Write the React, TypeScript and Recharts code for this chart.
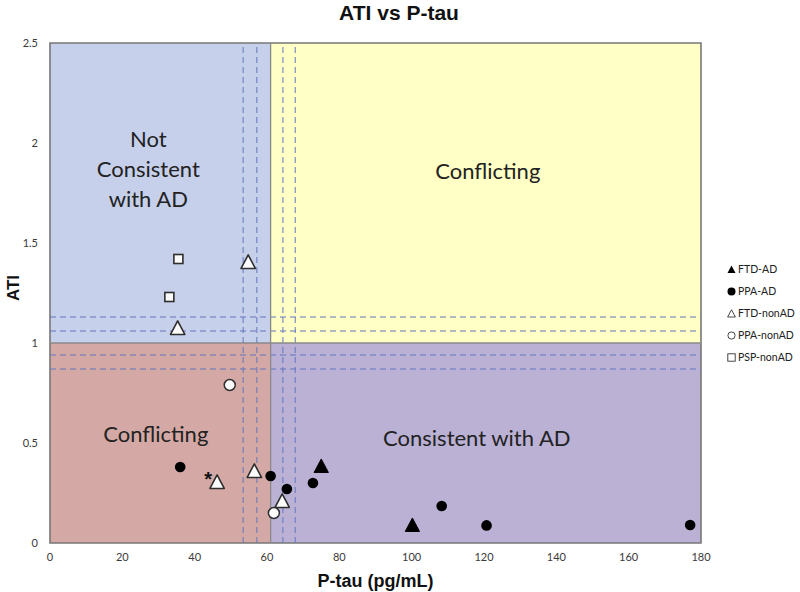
import React from 'react';
import { ScatterChart, Scatter, XAxis, YAxis, ReferenceArea, ReferenceLine, Legend } from 'recharts';

// ---- data ----
const xTicks = [0, 20, 40, 60, 80, 100, 120, 140, 160, 180];
const yTicks = [0, 0.5, 1, 1.5, 2, 2.5];
const ptauCutoff = 61;
const atiCutoff = 1;
const ptauDashed = [53.4, 57.2, 64.4, 67.8];
const atiDashed = [0.87, 0.94, 1.06, 1.13];

const ftdAD = [
  { x: 75, y: 0.38 },
  { x: 100.2, y: 0.085 },
];
const ppaAD = [
  { x: 36, y: 0.38 },
  { x: 61, y: 0.335 },
  { x: 65.5, y: 0.27 },
  { x: 72.7, y: 0.3 },
  { x: 108.3, y: 0.185 },
  { x: 120.7, y: 0.088 },
  { x: 177, y: 0.09 },
];
const ftdNonAD = [
  { x: 35.3, y: 1.07 },
  { x: 46.2, y: 0.3, note: '*' },
  { x: 56.5, y: 0.355 },
  { x: 64.2, y: 0.205 },
  { x: 54.8, y: 1.4 },
];
const ppaNonAD = [
  { x: 49.7, y: 0.79 },
  { x: 61.9, y: 0.15 },
];
const pspNonAD = [
  { x: 35.5, y: 1.42 },
  { x: 33, y: 1.23 },
];

const seriesNames = ['FTD-AD', 'PPA-AD', 'FTD-nonAD', 'PPA-nonAD', 'PSP-nonAD'];
const regionTexts = {
  notConsistent: ['Not', 'Consistent', 'with AD'],
  conflictingTop: ['Conflicting'],
  conflictingBottom: ['Conflicting'],
  consistent: ['Consistent with AD'],
};

// ---- styles ----
const regionFont = 'Lato, "Open Sans", sans-serif';
const boldFont = '"Liberation Sans", Arial, sans-serif';
const dashColor = '#6276bd';
const openFill = '#fbfbfb';
const openStroke = '#2e2e2e';

// ---- marker shapes ----
const triPoints = (cx: number, cy: number, s: number) =>
  `${cx},${cy - s * 0.62} ${cx - s * 0.55},${cy + s * 0.42} ${cx + s * 0.55},${cy + s * 0.42}`;

const FilledTriangle = (p: any) => (
  <polygon points={triPoints(p.cx, p.cy, 13)} fill="#000" stroke="#000" strokeWidth={1} />
);
const FilledCircle = (p: any) => <circle cx={p.cx} cy={p.cy} r={5.3} fill="#000" />;
const OpenTriangle = (p: any) => (
  <g>
    <polygon points={triPoints(p.cx, p.cy, 13)} fill={openFill} stroke={openStroke} strokeWidth={1.6} strokeLinejoin="round" />
    {p.payload && p.payload.note ? (
      <text x={p.cx - 9} y={p.cy + 3} textAnchor="middle" fontSize={20} fontWeight="bold" fontFamily={boldFont} fill="#111">
        {p.payload.note}
      </text>
    ) : null}
  </g>
);
const OpenCircle = (p: any) => (
  <circle cx={p.cx} cy={p.cy} r={5.5} fill={openFill} stroke={openStroke} strokeWidth={1.5} />
);
const OpenSquare = (p: any) => (
  <rect x={p.cx - 4.5} y={p.cy - 4.5} width={9} height={9} fill={openFill} stroke={openStroke} strokeWidth={1.6} />
);

const legendMarker = (name: string) => {
  switch (name) {
    case 'FTD-AD':
      return <polygon points="4.5,0.5 0.5,8 8.5,8" fill="#000" />;
    case 'PPA-AD':
      return <circle cx={4.5} cy={4.5} r={4} fill="#000" />;
    case 'FTD-nonAD':
      return <polygon points="4.5,0.8 0.6,8 8.4,8" fill="#fff" stroke="#333" strokeWidth={0.9} />;
    case 'PPA-nonAD':
      return <circle cx={4.5} cy={4.5} r={3.6} fill="#fff" stroke="#333" strokeWidth={0.9} />;
    default:
      return <rect x={0.8} y={0.8} width={7.4} height={7.4} fill="#fff" stroke="#333" strokeWidth={0.9} />;
  }
};

const renderLegend = () => (
  <div style={{ fontFamily: regionFont, fontSize: 10.5, color: '#222' }}>
    {seriesNames.map((n) => (
      <div key={n} style={{ height: 22, display: 'flex', alignItems: 'center' }}>
        <svg width={9} height={9} style={{ marginRight: 2 }}>
          {legendMarker(n)}
        </svg>
        <span>{n}</span>
      </div>
    ))}
  </div>
);

const RegionText = (props: any) => {
  const { viewBox, lines, dx, dy, lineHeight } = props;
  if (!viewBox) return null;
  const cx = viewBox.x + viewBox.width / 2 + dx;
  const cy = viewBox.y + viewBox.height / 2 + dy;
  const n = lines.length;
  return (
    <text textAnchor="middle" fontFamily={regionFont} fontSize={22} fill="#222">
      {lines.map((l: string, i: number) => (
        <tspan key={i} x={cx} y={cy + (i - (n - 1) / 2) * lineHeight} dominantBaseline="central">
          {l}
        </tspan>
      ))}
    </text>
  );
};

const XLabel = (props: any) => {
  const { viewBox } = props;
  return (
    <text x={viewBox.x + viewBox.width / 2} y={587} textAnchor="middle" fontFamily={boldFont} fontWeight="bold" fontSize={18} fill="#111">
      P-tau (pg/mL)
    </text>
  );
};
const YLabel = () => {
  const cy = 288;
  return (
    <text x={19} y={cy} transform={`rotate(-90 19 ${cy})`} textAnchor="middle" fontFamily={boldFont} fontWeight="bold" fontSize={17} fill="#111">
      ATI
    </text>
  );
};

export default function App() {
  const tickStyle = { fontSize: 11, fill: '#3a3a3a', fontFamily: regionFont };
  return (
    <div style={{ position: 'absolute', left: 0, top: 0, width: 800, height: 592, background: '#fff' }}>
      <div
        style={{
          position: 'absolute',
          left: 0,
          top: 0,
          width: 798,
          textAlign: 'center',
          fontFamily: boldFont,
          fontWeight: 'bold',
          fontSize: 21,
          lineHeight: '26px',
          color: '#111',
        }}
      >
        ATI vs P-tau
      </div>
      <ScatterChart width={800} height={592} margin={{ top: 43, right: 99, bottom: 4, left: 0 }}>
        <XAxis
          type="number"
          dataKey="x"
          domain={[0, 180]}
          ticks={xTicks}
          tickLine={false}
          axisLine={false}
          tickSize={0}
          tickMargin={10}
          tick={tickStyle}
          height={45}
          interval={0}
          label={<XLabel />}
        />
        <YAxis
          type="number"
          dataKey="y"
          domain={[0, 2.5]}
          ticks={yTicks}
          tickLine={false}
          axisLine={false}
          tickSize={0}
          tickMargin={12}
          tick={tickStyle}
          width={50}
          interval={0}
          label={<YLabel />}
        />
        <ReferenceArea x1={0} x2={ptauCutoff} y1={atiCutoff} y2={2.5} fill="#c6d0ea" fillOpacity={1} stroke="none"
          label={<RegionText lines={regionTexts.notConsistent} dx={-12} dy={-25} lineHeight={30} />} />
        <ReferenceArea x1={ptauCutoff} x2={180} y1={atiCutoff} y2={2.5} fill="#ffffc6" fillOpacity={1} stroke="none"
          label={<RegionText lines={regionTexts.conflictingTop} dx={2} dy={-23} lineHeight={30} />} />
        <ReferenceArea x1={0} x2={ptauCutoff} y1={0} y2={atiCutoff} fill="#d4a9a5" fillOpacity={1} stroke="none"
          label={<RegionText lines={regionTexts.conflictingBottom} dx={-4.5} dy={-10} lineHeight={30} />} />
        <ReferenceArea x1={ptauCutoff} x2={180} y1={0} y2={atiCutoff} fill="#bab1d5" fillOpacity={1} stroke="none"
          label={<RegionText lines={regionTexts.consistent} dx={-9} dy={-6} lineHeight={30} />} />
        {ptauDashed.map((v) => (
          <ReferenceLine key={'x' + v} x={v} stroke={dashColor} strokeDasharray="6 4" strokeWidth={1} />
        ))}
        {atiDashed.map((v) => (
          <ReferenceLine key={'y' + v} y={v} stroke={dashColor} strokeDasharray="6 4" strokeWidth={1} />
        ))}
        <ReferenceLine x={ptauCutoff} stroke="#8a8a8a" strokeWidth={1.3} />
        <ReferenceLine y={atiCutoff} stroke="#8a8a8a" strokeWidth={1.3} />
        <ReferenceArea x1={0} x2={180} y1={0} y2={2.5} fill="none" stroke="#777" strokeWidth={1.6} />
        <Legend
          layout="vertical"
          align="center"
          verticalAlign="middle"
          content={renderLegend}
          wrapperStyle={{ left: 727, top: 258, width: 75, height: 110 }}
        />
        <Scatter name="FTD-AD" data={ftdAD} shape={FilledTriangle} isAnimationActive={false} />
        <Scatter name="PPA-AD" data={ppaAD} shape={FilledCircle} isAnimationActive={false} />
        <Scatter name="FTD-nonAD" data={ftdNonAD} shape={OpenTriangle} isAnimationActive={false} />
        <Scatter name="PPA-nonAD" data={ppaNonAD} shape={OpenCircle} isAnimationActive={false} />
        <Scatter name="PSP-nonAD" data={pspNonAD} shape={OpenSquare} isAnimationActive={false} />
      </ScatterChart>
    </div>
  );
}
